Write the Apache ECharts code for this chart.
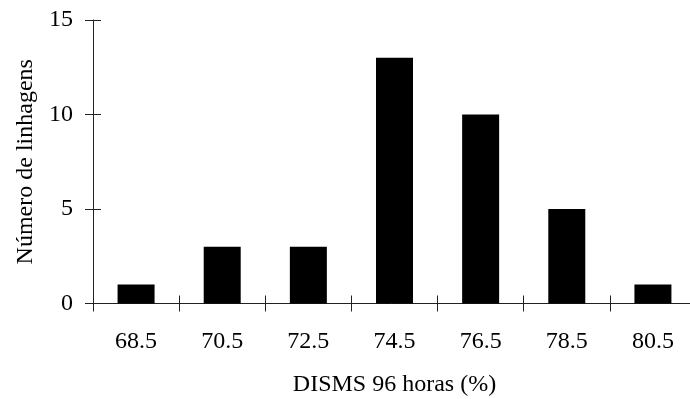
<!DOCTYPE html>
<html>
<head>
<meta charset="utf-8">
<script src="https://cdn.jsdelivr.net/npm/echarts@6/dist/echarts.min.js"></script>
<style>
html,body{margin:0;padding:0;background:#fff;}
#chart{width:690px;height:399px;}
</style>
</head>
<body>
<div id="chart"></div>
<script>
const categories = ['68.5', '70.5', '72.5', '74.5', '76.5', '78.5', '80.5'];
const counts = [1, 3, 3, 13, 10, 5, 1];
const yTicks = [0, 5, 10, 15];
const xTitle = 'DISMS 96 horas (%)';
const yTitle = 'Número de linhagens';

const FONT = '"Liberation Serif", "Times New Roman", serif';
const FS = 24;
const lineStyle = { color: '#222', width: 1 };
const gridGeom = { left: 93, top: 20, width: 603, height: 283.5, containLabel: false, outerBoundsMode: 'none' };

const chart = echarts.init(document.getElementById('chart'), null, { renderer: 'canvas' });
chart.setOption({
  animation: false,
  backgroundColor: '#fff',
  grid: [Object.assign({}, gridGeom), Object.assign({}, gridGeom)],
  xAxis: [{
    type: 'category',
    gridIndex: 0,
    data: categories,
    boundaryGap: true,
    name: xTitle,
    nameLocation: 'middle',
    nameGap: 69,
    nameTextStyle: { fontFamily: FONT, fontSize: FS, color: '#000' },
    axisLine: { show: true, lineStyle: lineStyle },
    axisTick: { show: true, inside: false, length: 8, alignWithLabel: false, lineStyle: lineStyle },
    axisLabel: { fontFamily: FONT, fontSize: FS, color: '#000', margin: 26, interval: 0 },
    splitLine: { show: false }
  }, {
    type: 'category',
    gridIndex: 1,
    data: categories,
    boundaryGap: true,
    axisLine: { show: false },
    axisTick: { show: true, inside: true, length: 8, lineStyle: lineStyle },
    axisLabel: { show: false },
    splitLine: { show: false }
  }],
  yAxis: [{
    type: 'value',
    gridIndex: 0,
    min: 0,
    max: 15,
    interval: 5,
    name: yTitle,
    nameLocation: 'middle',
    nameGap: 48,
    nameRotate: 90,
    nameTextStyle: { fontFamily: FONT, fontSize: FS, color: '#000' },
    axisLine: { show: true, lineStyle: lineStyle },
    axisTick: { show: true, inside: false, length: 8, lineStyle: lineStyle },
    axisLabel: {
      fontFamily: FONT, fontSize: FS, color: '#000', margin: 20,
      formatter: function (v) { return yTicks.indexOf(v) >= 0 ? String(v) : ''; }
    },
    splitLine: { show: false }
  }, {
    type: 'value',
    gridIndex: 1,
    min: 0,
    max: 15,
    interval: 5,
    axisLine: { show: false },
    axisTick: { show: true, inside: true, length: 8, lineStyle: lineStyle },
    axisLabel: { show: false },
    splitLine: { show: false }
  }],
  series: [{
    type: 'bar',
    xAxisIndex: 0,
    yAxisIndex: 0,
    data: counts,
    barWidth: 37,
    itemStyle: { color: '#000' },
    silent: true
  }]
});
</script>
</body>
</html>
